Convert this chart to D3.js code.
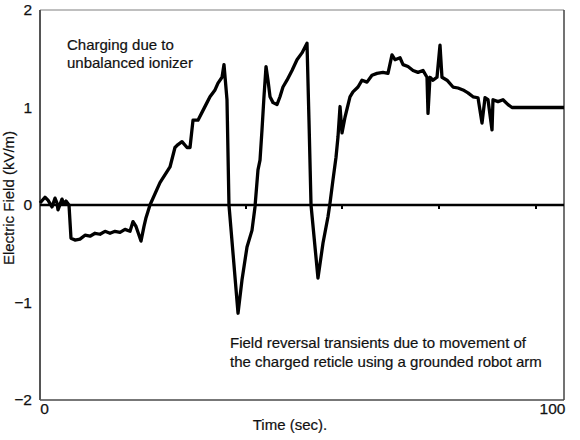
<!DOCTYPE html>
<html><head><meta charset="utf-8">
<script src="https://cdn.jsdelivr.net/npm/d3@7"></script>
<style>body{margin:0;background:#fff}svg{display:block}text{font-family:"Liberation Sans",Arial,sans-serif;fill:#111}</style>
</head><body><svg id="c" width="580" height="440"></svg>
<script>
const times = [0,0.98,1.57,2.36,2.95,3.35,3.54,4.33,4.72,5.12,5.71,6.10,6.89,7.87,8.86,9.84,10.83,11.81,12.80,13.78,14.76,15.75,16.73,17.72,18.31,18.90,19.29,19.88,20.47,20.87,21.65,23.62,25.59,26.57,27.17,27.95,28.94,29.53,30.12,31.10,31.89,32.87,33.46,34.45,35.04,35.83,36.22,36.81,37.20,38.98,39.76,40.75,41.73,42.32,42.91,43.31,43.70,44.09,44.49,44.88,45.28,45.87,46.65,47.24,47.83,48.62,49.61,50.59,51.57,52.56,52.95,53.35,54.72,55.71,56.69,57.09,57.68,58.27,58.66,59.06,59.45,60.04,61.02,61.61,62.60,63.39,64.37,65.35,66.34,67.52,68.50,69.29,69.88,70.87,71.46,72.44,73.43,74.41,75.39,76.18,76.38,76.77,77.36,78.15,78.74,79.13,80.12,81.30,82.28,83.27,84.25,85.24,86.22,87.01,87.60,88.19,88.98,89.17,90.16,91.14,92.13,92.91,103.15];
const field = [0.02,0.08,0.05,-0.02,0.07,0.02,-0.05,0.06,0.01,0.04,0,-0.34,-0.36,-0.35,-0.31,-0.32,-0.29,-0.30,-0.27,-0.29,-0.27,-0.28,-0.25,-0.27,-0.17,-0.22,-0.28,-0.37,-0.22,-0.13,0,0.23,0.39,0.59,0.62,0.65,0.59,0.59,0.87,0.87,0.95,1.05,1.11,1.18,1.25,1.31,1.44,1.08,0,-1.11,-0.77,-0.43,-0.26,-0.02,0.36,0.46,0.77,1.11,1.42,1.28,1.11,1.05,1.03,1.11,1.21,1.28,1.38,1.49,1.56,1.66,0.87,0,-0.75,-0.39,-0.12,0.02,0.26,0.49,0.70,1.01,0.74,0.90,1.11,1.16,1.21,1.28,1.26,1.33,1.35,1.36,1.35,1.54,1.49,1.51,1.44,1.42,1.38,1.36,1.38,1.31,0.94,1.31,1.28,1.31,1.64,1.31,1.28,1.21,1.20,1.18,1.15,1.11,1.10,0.84,1.10,1.08,0.77,1.08,1.06,1.08,1.03,1.00,1.00];
const yTicks = [-2,-1,0,1,2];
const xTicks = [0,100];
const zeroLineTicks = [40.55,59.45,78.54,97.64];
const xTitle = "Time (sec).";
const yTitle = "Electric Field (kV/m)";
const note1 = ["Charging due to","unbalanced ionizer"];
const note2 = ["Field reversal transients due to movement of","the charged reticle using a grounded robot arm"];

const svg = d3.select("#c");
const x = d3.scaleLinear().domain([0,100]).range([40,548]);
const y = d3.scaleLinear().domain([-2,2]).range([400,10]);
const xEnd = 103.15;

// frame
svg.append("line").attr("x1",x(0)).attr("x2",x(xEnd)).attr("y1",y(2)).attr("y2",y(2)).attr("stroke","#aaa").attr("stroke-width",1.5);
svg.append("line").attr("x1",x(0)).attr("x2",x(xEnd)).attr("y1",y(-2)).attr("y2",y(-2)).attr("stroke","#777").attr("stroke-width",2);
svg.append("line").attr("x1",x(xEnd)).attr("x2",x(xEnd)).attr("y1",y(2)).attr("y2",y(-2)).attr("stroke","#444").attr("stroke-width",1.5);
svg.append("line").attr("x1",x(0)).attr("x2",x(0)).attr("y1",y(2)).attr("y2",y(-2)).attr("stroke","#555").attr("stroke-width",2);

// axes (labels)
const ya = svg.append("g").attr("transform",`translate(${x(0)},0)`)
  .call(d3.axisLeft(y).tickValues(yTicks).tickSize(0).tickPadding(8).tickFormat(d3.format("d")));
ya.select(".domain").remove();
ya.selectAll("text").style("font-size","15.5px").attr("fill","#111").attr("stroke","#111").attr("stroke-width",0.25);
const xa = svg.append("g").attr("transform",`translate(0,${y(-2)})`)
  .call(d3.axisBottom(x).tickValues(xTicks).tickSize(0).tickPadding(3));
xa.select(".domain").remove();
xa.selectAll("text").style("font-size","15.5px").attr("fill","#111").attr("stroke","#111").attr("stroke-width",0.25).attr("dx",4);

// zero line
svg.append("line").attr("x1",x(0)).attr("x2",x(xEnd)).attr("y1",y(0)).attr("y2",y(0)).attr("stroke","#000").attr("stroke-width",2.5);
svg.selectAll(".zt").data(zeroLineTicks).enter().append("line")
  .attr("x1",d=>x(d)).attr("x2",d=>x(d)).attr("y1",y(0)).attr("y2",y(0)+4).attr("stroke","#000").attr("stroke-width",2);

// data line
const pts = times.map((t,i)=>[t,field[i]]);
svg.append("path").datum(pts)
  .attr("d",d3.line().x(d=>x(d[0])).y(d=>y(d[1])))
  .attr("fill","none").attr("stroke","#000").attr("stroke-width",3.3).attr("stroke-linejoin","round");

// titles
const tstyle = s => s.style("font-size","15px").attr("stroke","#111").attr("stroke-width",0.2);
svg.append("text").attr("x",290).attr("y",430).attr("text-anchor","middle").call(tstyle).text(xTitle);
svg.append("text").attr("transform","translate(14,198) rotate(-90)").attr("text-anchor","middle").call(tstyle).text(yTitle);

svg.append("g").selectAll("text").data(note1).enter().append("text")
  .attr("x",67).attr("y",(d,i)=>50+i*18).call(tstyle).text(d=>d);
svg.append("g").selectAll("text").data(note2).enter().append("text")
  .attr("x",230).attr("y",(d,i)=>348+i*19).call(tstyle).text(d=>d);
</script></body></html>
